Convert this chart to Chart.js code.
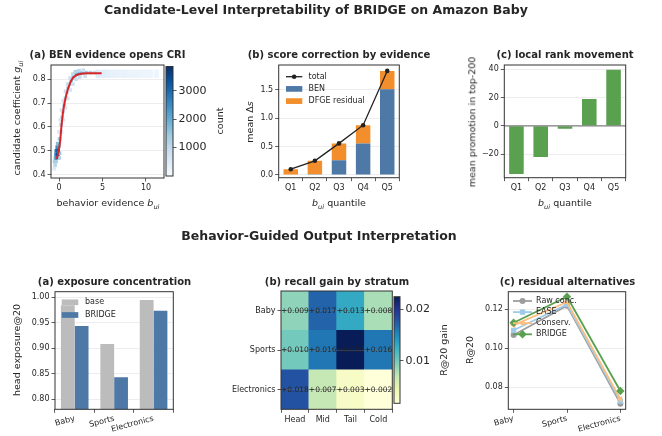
<!DOCTYPE html>
<html>
<head>
<meta charset="utf-8">
<script src="https://cdn.jsdelivr.net/npm/chart.js"></script>
<style>
html, body { margin: 0; padding: 0; background: #fff; }
#page { position: relative; width: 662px; height: 436px; overflow: hidden; font-family: 'DejaVu Sans', sans-serif; color: #262626; }
#page canvas { position: absolute; left: 0; top: 0; }
.t { position: absolute; white-space: nowrap; line-height: 1; transform: translate(-50%, -50%); }
.t.r { transform: translate(-50%, -50%) rotate(-90deg); }
.t sub { font-size: 70%; vertical-align: -0.35em; line-height: 0; }
</style>
</head>
<body>
<div id="page"></div>
<script>
// ---------- data ----------
// (a) BEN evidence vs candidate coefficient: fitted curve
const curveEvidence = [-0.25, 0.1, 0.3, 0.5, 0.7, 0.9, 1.1, 1.3, 1.6, 2.0, 2.5, 3.2, 4.0, 4.9];
const curveCoef     = [0.465, 0.53, 0.61, 0.672, 0.712, 0.744, 0.767, 0.786, 0.806, 0.818, 0.823, 0.825, 0.825, 0.825];
// (a) density cells (evidence, coefficient, count)
const densEvidence = [-0.55,-0.45,-0.5,-0.35,-0.4,-0.25,-0.35,-0.15,-0.3,-0.1,-0.2,-0.05,-0.15,0.05,0.0,
  0.05,0.15,0.25,0.35,0.45,0.6,0.75,0.9,1.05,1.2,1.4,1.6,1.8,2.05,2.35,2.7,3.1,3.6,4.1,
  0.0,0.15,0.3,0.5,0.75,1.0,1.3,1.6,1.9,2.3,2.8,
  0.3,0.5,0.75,1.0,1.3,1.6,1.95,2.4,3.0];
const densCoef = [0.425,0.44,0.455,0.455,0.47,0.47,0.485,0.485,0.50,0.50,0.515,0.52,0.53,0.49,0.47,
  0.55,0.58,0.61,0.64,0.665,0.69,0.72,0.745,0.762,0.78,0.795,0.807,0.815,0.821,0.825,0.827,0.828,0.828,0.828,
  0.58,0.63,0.67,0.71,0.75,0.78,0.805,0.822,0.832,0.836,0.838,
  0.58,0.63,0.68,0.72,0.755,0.78,0.80,0.81,0.813];
const densCount = [500,1100,1400,1300,2000,2400,2500,3400,2900,3200,2600,2300,1700,1600,1300,
  1300,1200,1150,1150,1200,1250,1300,1350,1400,1450,1550,1700,1900,2200,2100,1800,1500,1200,900,
  600,650,700,750,800,850,900,1000,1200,1100,900,
  500,550,600,650,700,750,850,900,800];
// faint plateau band
const bandEvidence = [4.5,5.1,5.7,6.3,6.9,7.5,8.1,8.7,9.3,9.9,10.5,11.2, 4.5,5.1,5.7,6.3,6.9,7.5,8.1,8.7,9.3,9.9,10.5,11.2];
const bandCoef     = [0.817,0.817,0.817,0.817,0.817,0.817,0.817,0.817,0.817,0.817,0.817,0.817,
                      0.830,0.830,0.830,0.830,0.830,0.830,0.830,0.830,0.830,0.830,0.830,0.830];
const bandCount    = [500,430,380,340,310,290,270,250,230,210,200,190, 450,390,340,300,280,260,240,220,200,190,180,170];
const countMax = 3850;

// (b) score correction by evidence
const quantiles = ['Q1', 'Q2', 'Q3', 'Q4', 'Q5'];
const benPart      = [0.0, 0.012, 0.26, 0.556, 1.51];
const dfgeResidual = [0.10, 0.236, 0.296, 0.321, 0.326];
const totalCorr    = [0.10, 0.248, 0.556, 0.877, 1.836];

// (c) local rank movement
const rankMove = [-34.0, -22.0, -2.0, 19.0, 39.7];

// bottom (a) exposure concentration
const domains = ['Baby', 'Sports', 'Electronics'];
const headBase   = [0.984, 0.908, 0.994];
const headBridge = [0.943, 0.843, 0.973];

// bottom (b) recall gain by stratum
const strata = ['Head', 'Mid', 'Tail', 'Cold'];
const gainBaby   = [0.009, 0.017, 0.013, 0.008];
const gainSports = [0.010, 0.016, 0.0224, 0.016];
const gainElec   = [0.018, 0.007, 0.003, 0.0018];

// bottom (c) residual alternatives
const rawConc    = [0.1067, 0.1217, 0.0715];
const easeRes    = [0.1091, 0.1224, 0.0728];
const conservRes = [0.1118, 0.1236, 0.0738];
const bridgeRes  = [0.1130, 0.1263, 0.0780];

// ---------- helpers ----------
const W = 662, H = 436;
const BLUES = ['#f7fbff','#deebf7','#c6dbef','#9ecae1','#6baed6','#4292c6','#2171b5','#08519c','#08306b'];
const YLGNBU = ['#ffffd9','#edf8b1','#c7e9b4','#7fcdbb','#41b6c4','#1d91c0','#225ea8','#253494','#081d58'];

function hex(h) { return [1, 3, 5].map(i => parseInt(h.substr(i, 2), 16)); }
function cmap(stops, t) {
  t = Math.max(0, Math.min(1, t));
  const p = t * (stops.length - 1), i = Math.min(Math.floor(p), stops.length - 2), f = p - i;
  const a = hex(stops[i]), b = hex(stops[i + 1]);
  const c = a.map((v, k) => Math.round(v + (b[k] - v) * f));
  return 'rgb(' + c.join(',') + ')';
}

Chart.defaults.font.family = "'DejaVu Sans', sans-serif";
Chart.defaults.font.size = 8;
Chart.defaults.color = '#262626';
Chart.defaults.animation = false;
Chart.defaults.plugins.legend.display = false;
Chart.defaults.plugins.tooltip.enabled = false;

const page = document.getElementById('page');

function text(html, cx, cy, size, opts) {
  opts = opts || {};
  const d = document.createElement('div');
  d.className = 't' + (opts.rot ? ' r' : '');
  d.style.left = cx + 'px';
  d.style.top = cy + 'px';
  d.style.fontSize = size + 'px';
  if (opts.bold) d.style.fontWeight = 'bold';
  d.innerHTML = html;
  page.appendChild(d);
}

function mkChart(cfg) {
  const c = document.createElement('canvas');
  c.width = W; c.height = H;
  c.style.width = W + 'px'; c.style.height = H + 'px';
  page.appendChild(c);
  cfg.options = Object.assign({ responsive: false, maintainAspectRatio: false, devicePixelRatio: 1 }, cfg.options);
  return new Chart(c, cfg);
}

// plot box [x0, y0, x1, y1] in page pixels -> layout padding
function padFor(box, yw, xh, rw) {
  return { left: box[0] - yw, top: box[1], right: W - box[2] - (rw || 0), bottom: H - box[3] - xh };
}
const fixTicks = vals => s => { s.ticks = vals.map(v => ({ value: v })); };
const TICK_FONT = { size: 8 };
const gridX = { drawOnChartArea: false, tickLength: 3.5, tickColor: '#333', tickWidth: 0.8 };
function gridY(extra) {
  return Object.assign({ color: '#e8e8e8', lineWidth: 0.8, tickLength: 3.5, tickColor: '#333', tickWidth: 0.8 }, extra);
}
function linY(min, max, vals, fmt, extra, yw) {
  return Object.assign({
    type: 'linear', min, max, afterBuildTicks: fixTicks(vals), afterFit: s => { s.width = yw || 40; },
    ticks: { callback: fmt, padding: 2, font: TICK_FONT }, grid: gridY(), border: { display: false }
  }, extra);
}
function linX(min, max, vals, fmt, extra) {
  return Object.assign({
    type: 'linear', min, max, afterBuildTicks: fixTicks(vals), afterFit: s => { s.height = 20; },
    ticks: { callback: fmt, padding: 2, font: TICK_FONT, autoSkip: false }, grid: gridX, border: { display: false }
  }, extra);
}
function catX(extra) {
  return Object.assign({
    type: 'category', afterFit: s => { s.height = 20; },
    ticks: { padding: 2, font: TICK_FONT, autoSkip: false }, grid: gridX, border: { display: false }
  }, extra);
}

// dark frame round each plot area
Chart.register({
  id: 'frame',
  afterDraw(chart) {
    const a = chart.chartArea, ctx = chart.ctx;
    ctx.save();
    ctx.strokeStyle = '#333';
    ctx.lineWidth = 1;
    ctx.strokeRect(a.left, a.top, a.right - a.left, a.bottom - a.top);
    ctx.restore();
  }
});

function drawMarker(ctx, style, r, rot, x, y) {
  if (Chart.helpers && Chart.helpers.drawPoint) {
    Chart.helpers.drawPoint(ctx, { pointStyle: style, radius: r, rotation: rot || 0, borderWidth: 0 }, x, y);
    return;
  }
  ctx.beginPath(); ctx.arc(x, y, r, 0, 2 * Math.PI); ctx.fill();
}

// small legend placed inside the axes
Chart.register({
  id: 'miniLegend',
  afterDraw(chart, args, o) {
    if (!o || !o.items) return;
    const ctx = chart.ctx;
    ctx.save();
    ctx.font = "8px 'DejaVu Sans'";
    ctx.textBaseline = 'middle';
    ctx.textAlign = 'left';
    o.items.forEach((di, k) => {
      const ds = chart.data.datasets[di];
      const y = o.y + k * o.dy;
      const isLine = ds.type === 'line' || (!ds.type && chart.config.type === 'line');
      if (isLine) {
        ctx.strokeStyle = ds.borderColor; ctx.lineWidth = ds.borderWidth;
        ctx.beginPath(); ctx.moveTo(o.x, y); ctx.lineTo(o.x + o.w, y); ctx.stroke();
        ctx.fillStyle = ds.pointBackgroundColor || ds.borderColor;
        drawMarker(ctx, ds.pointStyle || 'circle', ds.pointRadius, ds.pointRotation, o.x + o.w / 2, y);
      } else {
        ctx.fillStyle = ds.backgroundColor;
        ctx.fillRect(o.x, y - o.h / 2, o.w, o.h);
      }
      ctx.fillStyle = '#262626';
      ctx.fillText(ds.label, o.tx, y);
    });
    ctx.restore();
  }
});

function colorbar(box, stops, min, max, vals, fmt) {
  mkChart({
    type: 'bar',
    data: { labels: [''], datasets: [{
      data: [[min, max]], barPercentage: 1, categoryPercentage: 1, borderWidth: 0,
      backgroundColor: c => {
        const a = c.chart.chartArea;
        if (!a) return stops[0];
        const g = c.chart.ctx.createLinearGradient(0, a.bottom, 0, a.top);
        stops.forEach((s, i) => g.addColorStop(i / (stops.length - 1), s));
        return g;
      }
    }] },
    options: {
      layout: { padding: { left: box[0], top: box[1], right: W - box[2] - 40, bottom: H - box[3] } },
      scales: {
        x: { display: false },
        y: { type: 'linear', position: 'right', min, max, afterBuildTicks: fixTicks(vals), afterFit: s => { s.width = 40; },
             ticks: { callback: fmt, padding: 2, font: { size: 11 } },
             grid: { drawOnChartArea: false, tickLength: 3.5, tickColor: '#333', tickWidth: 0.8 }, border: { display: false } }
      }
    }
  });
}

// ---------- top (a) ----------
const boxA = [51, 65, 164, 178];
mkChart({
  type: 'scatter',
  data: { datasets: [
    { type: 'line', data: curveEvidence.map((x, i) => ({ x, y: curveCoef[i] })), borderColor: '#d62728', borderWidth: 2,
      pointRadius: 0, cubicInterpolationMode: 'monotone', fill: false },
    { data: densEvidence.map((x, i) => ({ x, y: densCoef[i] })), pointStyle: 'rect', pointRadius: 2.6, borderWidth: 0,
      backgroundColor: densCount.map(c => cmap(BLUES, c / countMax)) },
    { data: bandEvidence.map((x, i) => ({ x, y: bandCoef[i] })), pointStyle: 'rect', pointRadius: 3.7, borderWidth: 0,
      backgroundColor: bandCount.map(c => cmap(BLUES, c / countMax)) }
  ] },
  options: {
    layout: { padding: padFor(boxA, 40, 20) },
    scales: {
      x: linX(-0.92, 12.07, [0, 5, 10], v => String(v)),
      y: linY(0.386, 0.86, [0.4, 0.5, 0.6, 0.7, 0.8], v => v.toFixed(1))
    }
  }
});
colorbar([166, 66.5, 173, 176], BLUES, 0, countMax, [1000, 2000, 3000], v => String(v));

// ---------- top (b) ----------
const boxB = [278.7, 65, 399.3, 177.7];
mkChart({
  type: 'bar',
  data: { labels: quantiles, datasets: [
    { type: 'line', label: 'total', data: totalCorr, borderColor: '#222', borderWidth: 1.3, pointRadius: 2.3,
      pointBackgroundColor: '#222', pointBorderWidth: 0, stack: 't', order: 0 },
    { label: 'BEN', data: benPart, backgroundColor: '#4e79a7', stack: 's', order: 1, barPercentage: 0.6, categoryPercentage: 1, borderWidth: 0 },
    { label: 'DFGE residual', data: dfgeResidual, backgroundColor: '#f28e2b', stack: 's', order: 2, barPercentage: 0.6, categoryPercentage: 1, borderWidth: 0 }
  ] },
  options: {
    layout: { padding: padFor(boxB, 40, 20) },
    scales: {
      x: catX({ stacked: true }),
      y: linY(-0.05, 1.94, [0, 0.5, 1, 1.5], v => v.toFixed(1), { stacked: true })
    },
    plugins: { miniLegend: { items: [0, 1, 2], x: 286, w: 16.3, h: 5.7, tx: 308.5, y: 76.7, dy: 12.2 } }
  }
});

// ---------- top (c) ----------
const boxC = [504.3, 65, 625.7, 177.7];
mkChart({
  type: 'bar',
  data: { labels: quantiles, datasets: [
    { label: 'promotion', data: rankMove, backgroundColor: '#59a14f', barPercentage: 0.6, categoryPercentage: 1, borderWidth: 0 }
  ] },
  options: {
    layout: { padding: padFor(boxC, 40, 20) },
    scales: {
      x: catX(),
      y: linY(-36.7, 43, [-20, 0, 20, 40], v => v < 0 ? '\u2212' + Math.abs(v) : String(v))
    }
  },
  plugins: [{
    id: 'zeroLine',
    afterDatasetsDraw(chart) {
      const a = chart.chartArea, y = chart.scales.y.getPixelForValue(0), ctx = chart.ctx;
      ctx.save(); ctx.strokeStyle = '#808080'; ctx.lineWidth = 1.3;
      ctx.beginPath(); ctx.moveTo(a.left, y); ctx.lineTo(a.right, y); ctx.stroke(); ctx.restore();
    }
  }]
});

// ---------- bottom (a) ----------
const boxD = [55, 291.7, 173.3, 409.3];
const rotTicks = { padding: 1, font: TICK_FONT, autoSkip: false, minRotation: 15, maxRotation: 15 };
mkChart({
  type: 'bar',
  data: { labels: domains, datasets: [
    { label: 'base', data: headBase, backgroundColor: '#bcbcbc', barPercentage: 1, categoryPercentage: 0.7, borderWidth: 0 },
    { label: 'BRIDGE', data: headBridge, backgroundColor: '#4e79a7', barPercentage: 1, categoryPercentage: 0.7, borderWidth: 0 }
  ] },
  options: {
    layout: { padding: padFor(boxD, 40, 26) },
    scales: {
      x: catX({ ticks: rotTicks, afterFit: s => { s.height = 26; } }),
      y: linY(0.780, 1.0104, [0.8, 0.85, 0.9, 0.95, 1.0], v => v.toFixed(2))
    },
    plugins: { miniLegend: { items: [0, 1], x: 61.7, w: 16.6, h: 5.7, tx: 85, y: 302.3, dy: 12.7 } }
  }
});

// ---------- bottom (b) heatmap ----------
const boxE = [281, 291, 392.3, 409.3];
const gainRows = [gainElec, gainSports, gainBaby]; // bottom to top
const rowNames = ['Electronics', 'Sports', 'Baby'];
const allGains = gainRows.flat();
const gMin = Math.min(...allGains), gMax = Math.max(...allGains);
mkChart({
  type: 'bar',
  data: { labels: strata, datasets: gainRows.map((g, r) => ({
    label: rowNames[r], gains: g, data: g.map(() => [r, r + 1]),
    backgroundColor: g.map(v => cmap(YLGNBU, (v - gMin) / (gMax - gMin))),
    barPercentage: 1, categoryPercentage: 1, grouped: false, borderWidth: 0
  })) },
  options: {
    layout: { padding: padFor(boxE, 70, 20) },
    scales: {
      x: catX(),
      y: linY(0, 3, [0.5, 1.5, 2.5], v => rowNames[Math.floor(v)],
        { grid: gridY({ color: 'rgba(110,110,110,0.55)', z: 1 }) }, 70)
    }
  },
  plugins: [{
    id: 'cellText',
    afterDraw(chart) {
      const ctx = chart.ctx;
      ctx.save();
      ctx.font = "7.5px 'DejaVu Sans'"; ctx.fillStyle = '#262626';
      ctx.textAlign = 'center'; ctx.textBaseline = 'middle';
      chart.data.datasets.forEach((ds, di) => {
        chart.getDatasetMeta(di).data.forEach((el, i) => {
          ctx.fillText('+' + ds.gains[i].toFixed(3), el.x, (el.y + el.base) / 2);
        });
      });
      ctx.restore();
    }
  }]
});
colorbar([394, 296.7, 400, 403.3], YLGNBU, gMin, gMax, [0.01, 0.02], v => v.toFixed(2));

// ---------- bottom (c) ----------
const boxF = [508.3, 291.7, 625.7, 409.3];
const pts = arr => arr.map((v, i) => ({ x: i, y: v }));
mkChart({
  type: 'line',
  data: { datasets: [
    { label: 'Raw conc.', data: pts(rawConc), borderColor: '#9d9d9d', pointBackgroundColor: '#9d9d9d', borderWidth: 1.8,
      pointStyle: 'circle', pointRadius: 3, pointBorderWidth: 0, order: 4 },
    { label: 'EASE', data: pts(easeRes), borderColor: '#a0cbe8', pointBackgroundColor: '#a0cbe8', borderWidth: 1.8,
      pointStyle: 'rect', pointRadius: 3.8, pointBorderWidth: 0, order: 3 },
    { label: 'Conserv.', data: pts(conservRes), borderColor: '#ffbe7d', pointBackgroundColor: '#ffbe7d', borderWidth: 1.8,
      pointStyle: 'triangle', pointRotation: -90, pointRadius: 3.8, pointBorderWidth: 0, order: 2 },
    { label: 'BRIDGE', data: pts(bridgeRes), borderColor: '#59a14f', pointBackgroundColor: '#59a14f', borderWidth: 1.8,
      pointStyle: 'rectRot', pointRadius: 4.2, pointBorderWidth: 0, order: 1 }
  ] },
  options: {
    layout: { padding: padFor(boxF, 40, 26) },
    scales: {
      x: linX(-0.1, 2.1, [0, 1, 2], v => domains[v],
        { ticks: Object.assign({ callback: v => domains[v] }, rotTicks), afterFit: s => { s.height = 26; } }),
      y: linY(0.0686, 0.1289, [0.08, 0.10, 0.12], v => v.toFixed(2))
    },
    plugins: { miniLegend: { items: [0, 1, 2, 3], x: 513, w: 19, tx: 536, y: 301, dy: 11.1 } }
  }
});

// ---------- text ----------
const bui = '<i>b</i><sub><i>ui</i></sub>';
text('Candidate-Level Interpretability of BRIDGE on Amazon Baby', 316, 9.5, 12.5, { bold: true });
text('Behavior-Guided Output Interpretation', 319, 236, 12.5, { bold: true });

text('(a) BEN evidence opens CRI', 107.5, 55, 10, { bold: true });
text('(b) score correction by evidence', 339, 55, 10, { bold: true });
text('(c) local rank movement', 565, 55, 10, { bold: true });
text('(a) exposure concentration', 114.5, 281.7, 10, { bold: true });
text('(b) recall gain by stratum', 337, 281.7, 10, { bold: true });
text('(c) residual alternatives', 567.5, 281.7, 10, { bold: true });

text('candidate coefficient <i>g</i><sub><i>ui</i></sub>', 17, 118, 9.5, { rot: true });
text('behavior evidence ' + bui, 108, 202.5, 9.5);
text('count', 220, 121, 9.5, { rot: true });
text('mean \u0394<i>s</i>', 250, 121.5, 9.5, { rot: true });
text(bui + ' quantile', 339, 202.5, 9.5);
text('mean promotion in top-200', 472, 122, 9.5, { rot: true });
text(bui + ' quantile', 565, 202.5, 9.5);

text('head exposure@20', 17, 350, 9.5, { rot: true });
text('R@20 gain', 444, 350, 9.5, { rot: true });
text('R@20', 470, 350, 9.5, { rot: true });
</script>
</body>
</html>
